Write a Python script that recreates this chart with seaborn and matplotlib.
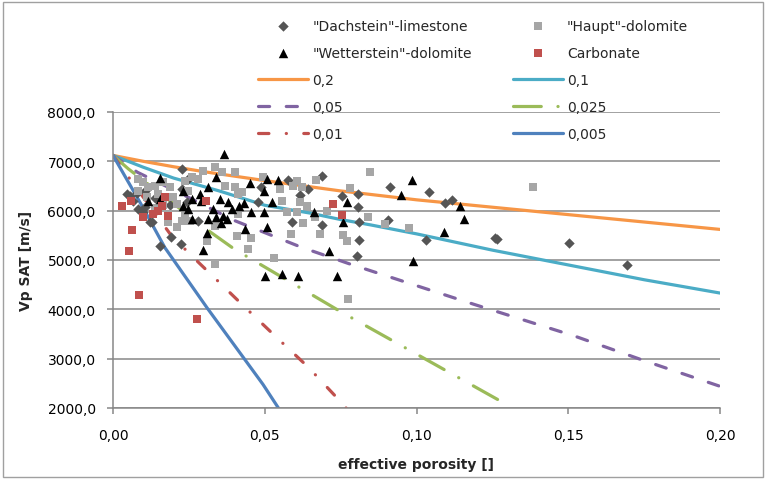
import matplotlib
matplotlib.use("Agg")
import matplotlib.pyplot as plt
import seaborn as sns
import pandas as pd
from matplotlib.ticker import FuncFormatter, FixedLocator
from matplotlib.patches import Rectangle

# ---------------- data ----------------
dach_x = [0.1694, 0.1503, 0.1265, 0.1258, 0.0913, 0.1040, 0.1094, 0.1117, 0.0906, 0.1031,
          0.0807, 0.0807, 0.0810, 0.0810, 0.0804, 0.0754, 0.0577, 0.0643, 0.0689, 0.0590,
          0.0689, 0.0616, 0.0488, 0.0478, 0.0280, 0.0244, 0.0227, 0.0247, 0.0227, 0.0056,
          0.0066, 0.0082, 0.0099, 0.0128, 0.0155, 0.0191, 0.0224, 0.0046, 0.0080, 0.0105,
          0.0138, 0.0188, 0.0105, 0.0122]
dach_y = [4900, 5340, 5420, 5450, 6480, 6380, 6150, 6210, 5810, 5400,
          6340, 6070, 5780, 5400, 5080, 6300, 6620, 6440, 6700, 5770,
          5710, 6320, 6480, 6170, 5790, 6170, 6840, 6640, 6440, 6300,
          6190, 6030, 5970, 5770, 5280, 5470, 5320, 6330, 6350, 6400,
          6260, 6110, 6070, 5770]

haupt_x = [0.1384, 0.0847, 0.0840, 0.0896, 0.0975, 0.0758, 0.0770, 0.0774, 0.0780,
           0.0550, 0.0606, 0.0593, 0.0623, 0.0669, 0.0557, 0.0616, 0.0639, 0.0573, 0.0606,
           0.0705, 0.0666, 0.0626, 0.0586, 0.0682, 0.0530, 0.0494, 0.0425, 0.0402, 0.0360,
           0.0409, 0.0455, 0.0445, 0.0336, 0.0336, 0.0297, 0.0260, 0.0280, 0.0369, 0.0402,
           0.0412, 0.0247, 0.0254, 0.0336, 0.0412, 0.0310, 0.0099, 0.0082, 0.0115, 0.0138,
           0.0165, 0.0188, 0.0082, 0.0112, 0.0148, 0.0198, 0.0211, 0.0237, 0.0181, 0.0181,
           0.0227, 0.0211, 0.0237, 0.0165, 0.0140]
haupt_y = [6480, 6780, 5870, 5730, 5650, 5500, 5380, 4210, 6460,
           6440, 6600, 6500, 6480, 6620, 6190, 6170, 6090, 5970, 5970,
           5990, 5870, 5750, 5530, 5530, 5040, 6680, 6380, 6780, 6780,
           5490, 5450, 5220, 4920, 6880, 6800, 6680, 6640, 6500, 6480,
           6340, 6400, 5790, 5690, 5930, 5380, 6580, 6640, 6480, 6500,
           6580, 6480, 6400, 6280, 6340, 6280, 6130, 6600, 5930, 5770,
           5790, 5670, 5950, 6120, 6050]

wett_x = [0.0985, 0.0949, 0.1143, 0.1157, 0.1090, 0.0988, 0.0770, 0.0757,
          0.0507, 0.0543, 0.0525, 0.0662, 0.0507, 0.0711, 0.0557, 0.0610, 0.0500, 0.0738,
          0.0366, 0.0340, 0.0313, 0.0451, 0.0498, 0.0260, 0.0290, 0.0353, 0.0379, 0.0415,
          0.0432, 0.0247, 0.0330, 0.0392, 0.0455, 0.0498, 0.0313, 0.0340, 0.0362, 0.0356,
          0.0376, 0.0435, 0.0297, 0.0310, 0.0155, 0.0115, 0.0230, 0.0230, 0.0155, 0.0287,
          0.0260]
wett_y = [6620, 6320, 6100, 5830, 5560, 4980, 6170, 5770,
          6640, 6620, 6170, 5970, 5670, 5180, 4710, 4670, 4670, 4670,
          7150, 6680, 6480, 6560, 6400, 6240, 6190, 6240, 6170, 6090,
          6150, 6030, 6030, 6030, 5970, 5970, 5830, 5870, 5890, 5750,
          5830, 5630, 5200, 5550, 6660, 6190, 6400, 6090, 6240, 6340,
          5830]

carb_x = [0.0030, 0.0060, 0.0063, 0.0053, 0.0086, 0.0277, 0.0099, 0.0132, 0.0148,
          0.0160, 0.0171, 0.0181, 0.0306, 0.0725, 0.0755]
carb_y = [6100, 6190, 5610, 5180, 4290, 3800, 5870, 5930, 5990,
          6090, 6280, 5890, 6190, 6130, 5910]

c020_x = [0, 0.01, 0.02, 0.03, 0.05, 0.075, 0.1, 0.125, 0.15, 0.175, 0.2]
c020_y = [7120, 7000, 6890, 6790, 6610, 6400, 6220, 6070, 5920, 5770, 5620]
c010_x = [0, 0.01, 0.02, 0.035, 0.05, 0.065, 0.075, 0.085, 0.1, 0.125, 0.15, 0.175, 0.2]
c010_y = [7120, 6880, 6660, 6400, 6110, 5950, 5820, 5710, 5530, 5200, 4900, 4600, 4330]
c005_x = [0, 0.008, 0.02, 0.04, 0.062, 0.078, 0.1, 0.119, 0.152, 0.175, 0.2]
c005_y = [7120, 6780, 6420, 5800, 5260, 4920, 4480, 4100, 3460, 2960, 2440]
c0025_x = [0, 0.005, 0.032, 0.040, 0.0494, 0.0748, 0.1300]
c0025_y = [7120, 6850, 5570, 5220, 4880, 3960, 2060]
c001_x = [0, 0.0056, 0.0194, 0.0287, 0.0353, 0.0425, 0.0534, 0.0643, 0.0748, 0.0768]
c001_y = [7120, 6640, 5480, 4920, 4530, 4100, 3460, 2830, 2140, 2000]
c0005_x = [0, 0.01, 0.0171, 0.031, 0.0494, 0.0545]
c0005_y = [7120, 6050, 5250, 4030, 2480, 2000]

x_ticks = [0.0, 0.05, 0.10, 0.15, 0.20]
y_ticks = [2000, 3000, 4000, 5000, 6000, 7000, 8000]

# ---------------- style ----------------
sns.set_style("white")
plt.rcParams["font.family"] = ["DejaVu Sans"]
plt.rcParams["lines.scale_dashes"] = False

FS = 10

fig = plt.figure(figsize=(7.66, 4.81), dpi=100)
ax = fig.add_axes([113 / 766, 1 - 409 / 481, (720 - 113) / 766, (409 - 113) / 481])

lw = 2.3
curves = [
    ("0,2", c020_x, c020_y, "#F79646", "-"),
    ("0,1", c010_x, c010_y, "#4BACC6", "-"),
    ("0,05", c005_x, c005_y, "#8064A2", (0, (8, 12))),
    ("0,025", c0025_x, c0025_y, "#9BBB59", (0, (20, 12, 0.1, 12))),
    ("0,01", c001_x, c001_y, "#C0504D", (0, (7.5, 12.5, 0.1, 12.5))),
    ("0,005", c0005_x, c0005_y, "#4F81BD", "-"),
]
for lab, xs, ys, col, ls in curves:
    df = pd.DataFrame({"x": xs, "y": ys})
    sns.lineplot(data=df, x="x", y="y", sort=False, estimator=None, ax=ax,
                 color=col, lw=lw, linestyle=ls, label=lab,
                 dash_capstyle="round", solid_capstyle="round", zorder=2)

series = [
    ('"Dachstein"-limestone', dach_x, dach_y, "#555555", "D", 28),
    ('"Haupt"-dolomite', haupt_x, haupt_y, "#A6A6A6", "s", 38),
    ('"Wetterstein"-dolomite', wett_x, wett_y, "#000000", "^", 46),
    ("Carbonate", carb_x, carb_y, "#C0504D", "s", 38),
]
for lab, xs, ys, col, mk, s in series:
    df = pd.DataFrame({"x": xs, "y": ys})
    sns.scatterplot(data=df, x="x", y="y", ax=ax, color=col, marker=mk, s=s,
                    linewidth=0, label=lab, zorder=3)

ax.set_xlim(0, 0.2)
ax.set_ylim(2000, 8000)
ax.xaxis.set_major_locator(FixedLocator(x_ticks))
ax.yaxis.set_major_locator(FixedLocator(y_ticks))
ax.xaxis.set_major_formatter(FuncFormatter(lambda v, p: f"{v:.2f}".replace(".", ",")))
ax.yaxis.set_major_formatter(FuncFormatter(lambda v, p: f"{v:.1f}".replace(".", ",")))
gcol = "#878787"
ax.yaxis.grid(True, color=gcol, lw=1.1)
ax.xaxis.grid(False)
ax.set_axisbelow(True)
for sp in ["top", "right"]:
    ax.spines[sp].set_visible(False)
for sp in ["left", "bottom"]:
    ax.spines[sp].set_color(gcol)
    ax.spines[sp].set_linewidth(1.1)
ax.tick_params(axis="both", direction="out", length=4.5, width=1.1, color=gcol,
               labelsize=FS, labelcolor="#000000", left=True, bottom=True)
ax.tick_params(axis="y", pad=8)
ax.tick_params(axis="x", pad=10)
ax.set_xlabel("effective porosity []", fontsize=FS, fontweight="bold", labelpad=11)
ax.set_ylabel("Vp SAT [m/s]", fontsize=FS, fontweight="bold", labelpad=10)

h, l = ax.get_legend_handles_labels()
d = dict(zip(l, h))
order = ['"Dachstein"-limestone', '"Wetterstein"-dolomite', "0,2", "0,05", "0,01",
         '"Haupt"-dolomite', "Carbonate", "0,1", "0,025", "0,005"]
ax.legend([d[k] for k in order], order, ncol=2, frameon=False, fontsize=FS,
          loc="upper left", bbox_to_anchor=(258 / 766, 1 - 20 / 481),
          bbox_transform=fig.transFigure, borderpad=0, handlelength=3.6,
          handletextpad=0.3, labelspacing=0.93, columnspacing=2.95, borderaxespad=0)

fig.patches.append(Rectangle((3 / 766, 3 / 481), 760 / 766, 475 / 481, transform=fig.transFigure,
                             fill=False, edgecolor="#A0A0A0", lw=1))
fig.savefig("out.png", dpi=100)
